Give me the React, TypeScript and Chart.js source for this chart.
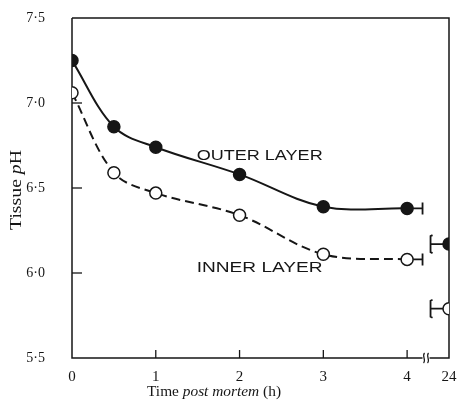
import React, { useEffect, useRef } from "react";
import { Chart, registerables } from "chart.js";

Chart.register(...registerables);

// ---- data ----
const hours = [0, 0.5, 1, 2, 3, 4];
const lateHour = 24;
const outerPH = [7.25, 6.86, 6.74, 6.58, 6.39, 6.38];
const innerPH = [7.06, 6.59, 6.47, 6.34, 6.11, 6.08];
const outerLatePH = 6.17;
const innerLatePH = 5.79;
const xTickHours = [0, 1, 2, 3, 4, 24];
const xTickLabels = ["0", "1", "2", "3", "4", "24"];
const yTickValues = [5.5, 6.0, 6.5, 7.0, 7.5];
const yTickLabels = ["5·5", "6·0", "6·5", "7·0", "7·5"];
const outerLabel = { text: "OUTER LAYER", x: 2.24, y: 6.69 };
const innerLabel = { text: "INNER LAYER", x: 2.24, y: 6.03 };

// broken time axis: 0–4 h linear, 24 h drawn just after the break
const LATE_POS = 4.5;
const BREAK_POS = 4.22;
const pos = (h: number) => (h <= 4 ? h : LATE_POS);

const INK = "#161616";
const SERIF = "'Liberation Serif', 'Times New Roman', serif";
const SANS = "'Liberation Sans', Arial, sans-serif";

type Run = { text: string; font: string };

function drawRuns(ctx: CanvasRenderingContext2D, runs: Run[], cx: number, cy: number, targetW: number, rotate = 0) {
  ctx.save();
  let total = 0;
  const widths = runs.map((r) => {
    ctx.font = r.font;
    const w = ctx.measureText(r.text).width;
    total += w;
    return w;
  });
  ctx.translate(cx, cy);
  if (rotate) ctx.rotate(rotate);
  ctx.scale(targetW / total, 1);
  ctx.fillStyle = INK;
  ctx.textBaseline = "middle";
  ctx.textAlign = "left";
  let x = -total / 2;
  runs.forEach((r, i) => {
    ctx.font = r.font;
    ctx.fillText(r.text, x, 0);
    x += widths[i];
  });
  ctx.restore();
}

const decor = {
  id: "decor",
  beforeDatasetsDraw(chart: any) {
    const ctx: CanvasRenderingContext2D = chart.ctx;
    const xs = chart.scales.x;
    const ys = chart.scales.y;
    const { left, right, top, bottom } = chart.chartArea;
    const bx = xs.getPixelForValue(BREAK_POS);
    ctx.save();
    ctx.strokeStyle = INK;
    ctx.lineWidth = 1.5;
    ctx.lineCap = "butt";
    // frame
    ctx.beginPath();
    ctx.moveTo(left, top);
    ctx.lineTo(left, bottom);
    ctx.lineTo(bx - 3, bottom);
    ctx.moveTo(bx + 4, bottom);
    ctx.lineTo(right, bottom);
    ctx.lineTo(right, top);
    ctx.lineTo(left, top);
    ctx.stroke();
    // axis break marks
    ctx.lineWidth = 1.2;
    [-2, 2].forEach((d) => {
      ctx.beginPath();
      ctx.moveTo(bx + d + 1, bottom - 5);
      ctx.bezierCurveTo(bx + d - 2, bottom - 2, bx + d + 3, bottom + 2, bx + d, bottom + 5);
      ctx.stroke();
    });
    // inward ticks
    ctx.lineWidth = 1.3;
    yTickValues.slice(1, -1).forEach((v) => {
      const y = ys.getPixelForValue(v);
      ctx.beginPath();
      ctx.moveTo(left, y);
      ctx.lineTo(left + 10, y);
      ctx.stroke();
    });
    xTickHours.slice(1, 5).forEach((h) => {
      const x = xs.getPixelForValue(pos(h));
      ctx.beginPath();
      ctx.moveTo(x, bottom);
      ctx.lineTo(x, bottom - 8);
      ctx.stroke();
    });
    // curve break stubs
    ctx.lineWidth = 1.8;
    const lastX = xs.getPixelForValue(pos(hours[hours.length - 1]));
    const lateX = xs.getPixelForValue(pos(lateHour));
    const stubEnd = bx - 3;
    const stubStart = bx + 5;
    [outerPH[outerPH.length - 1], innerPH[innerPH.length - 1]].forEach((v) => {
      const y = ys.getPixelForValue(v);
      ctx.beginPath();
      ctx.moveTo(lastX, y);
      ctx.lineTo(stubEnd, y);
      ctx.moveTo(stubEnd, y - 6);
      ctx.lineTo(stubEnd, y + 6);
      ctx.stroke();
    });
    [outerLatePH, innerLatePH].forEach((v) => {
      const y = ys.getPixelForValue(v);
      ctx.beginPath();
      ctx.moveTo(lateX, y);
      ctx.lineTo(stubStart, y);
      ctx.moveTo(stubStart + 2, y - 9);
      ctx.lineTo(stubStart, y - 8);
      ctx.lineTo(stubStart, y + 8);
      ctx.lineTo(stubStart + 2, y + 9);
      ctx.stroke();
    });
    ctx.restore();
  },
  afterDraw(chart: any) {
    const ctx: CanvasRenderingContext2D = chart.ctx;
    const xs = chart.scales.x;
    const ys = chart.scales.y;
    const { top, bottom } = chart.chartArea;
    // series labels
    [outerLabel, innerLabel].forEach((l) => {
      drawRuns(ctx, [{ text: l.text, font: `15px ${SANS}` }], xs.getPixelForValue(l.x), ys.getPixelForValue(l.y), 126);
    });
    // axis titles
    drawRuns(
      ctx,
      [
        { text: "Time ", font: `15px ${SERIF}` },
        { text: "post mortem", font: `italic 15px ${SERIF}` },
        { text: " (h)", font: `15px ${SERIF}` },
      ],
      214,
      bottom + 34,
      134
    );
    drawRuns(
      ctx,
      [
        { text: "Tissue ", font: `16px ${SERIF}` },
        { text: "p", font: `italic 16px ${SERIF}` },
        { text: "H", font: `16px ${SERIF}` },
      ],
      17,
      (top + bottom) / 2 + 2,
      80,
      -Math.PI / 2
    );
  },
};

export default function App() {
  const ref = useRef<HTMLCanvasElement | null>(null);
  useEffect(() => {
    if (!ref.current) return;
    const pointStyle = {
      pointRadius: 6,
      pointHoverRadius: 6,
      pointBorderWidth: 1.5,
      pointBorderColor: INK,
    };
    const chart = new Chart(ref.current, {
      type: "line",
      data: {
        datasets: [
          {
            label: "Outer layer",
            data: hours.map((h, i) => ({ x: pos(h), y: outerPH[i] })),
            borderColor: INK,
            borderWidth: 2,
            tension: 0.35,
            pointBackgroundColor: INK,
            ...pointStyle,
          },
          {
            label: "Inner layer",
            data: hours.map((h, i) => ({ x: pos(h), y: innerPH[i] })),
            borderColor: INK,
            borderWidth: 2,
            borderDash: [9, 5],
            tension: 0.35,
            pointBackgroundColor: "#ffffff",
            ...pointStyle,
          },
          {
            label: "Outer layer 24 h",
            data: [{ x: pos(lateHour), y: outerLatePH }],
            showLine: false,
            pointBackgroundColor: INK,
            ...pointStyle,
          },
          {
            label: "Inner layer 24 h",
            data: [{ x: pos(lateHour), y: innerLatePH }],
            showLine: false,
            pointBackgroundColor: "#ffffff",
            ...pointStyle,
          },
        ],
      },
      options: {
        animation: false,
        responsive: true,
        maintainAspectRatio: false,
        layout: { padding: { top: 18, right: 9, left: 0, bottom: 0 } },
        plugins: { legend: { display: false }, tooltip: { enabled: false } },
        events: [],
        scales: {
          x: {
            type: "linear",
            min: 0,
            max: LATE_POS,
            grid: { display: false, drawTicks: false },
            border: { display: false },
            afterBuildTicks: (s: any) => {
              s.ticks = xTickHours.map((h) => ({ value: pos(h) }));
            },
            afterFit: (s: any) => {
              s.height = 50;
              s.paddingLeft = 0;
              s.paddingRight = 0;
            },
            ticks: {
              autoSkip: false,
              maxRotation: 0,
              padding: 10,
              color: INK,
              font: { family: SERIF, size: 15 },
              callback: (_v: any, i: number) => xTickLabels[i],
            },
          },
          y: {
            type: "linear",
            min: 5.5,
            max: 7.5,
            grid: { display: false, drawTicks: false },
            border: { display: false },
            afterBuildTicks: (s: any) => {
              s.ticks = yTickValues.map((v) => ({ value: v }));
            },
            afterFit: (s: any) => {
              s.width = 72;
              s.paddingTop = 0;
              s.paddingBottom = 0;
            },
            ticks: {
              autoSkip: false,
              padding: 27,
              color: INK,
              font: { family: SERIF, size: 14 },
              callback: (_v: any, i: number) => yTickLabels[i],
            },
          },
        },
      },
      plugins: [decor],
    } as any);
    return () => chart.destroy();
  }, []);
  return (
    <div style={{ position: "absolute", left: 0, top: 0, width: 458, height: 408, background: "#fff" }}>
      <canvas ref={ref} />
    </div>
  );
}
